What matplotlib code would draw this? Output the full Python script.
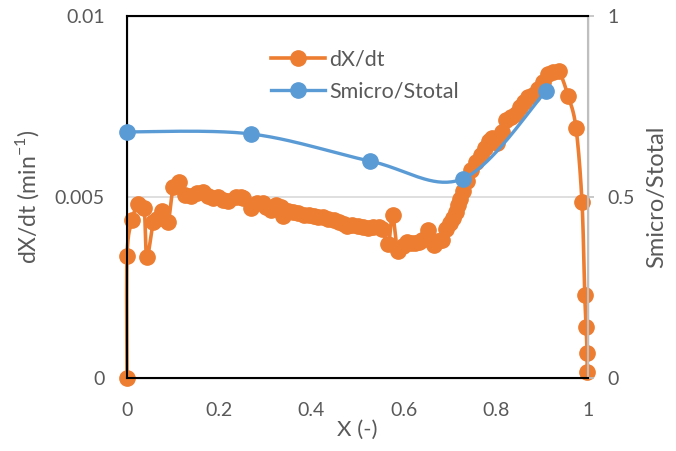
import matplotlib
matplotlib.use("Agg")
import matplotlib.pyplot as plt
import numpy as np

plt.rcParams['font.family'] = ['Lato', 'DejaVu Sans']

# conversion rate X and rate dX/dt (min^-1)
x_rate = [0.000, 0.000, 0.011, 0.024, 0.037, 0.043, 0.057, 0.065, 0.076, 0.089,
          0.100, 0.113, 0.126, 0.139, 0.152, 0.165, 0.176, 0.187, 0.198, 0.209,
          0.220, 0.237, 0.248, 0.252, 0.270, 0.283, 0.294, 0.302, 0.313, 0.324,
          0.333, 0.339, 0.350, 0.361, 0.372, 0.383, 0.394, 0.405, 0.415, 0.426,
          0.437, 0.448, 0.459, 0.470, 0.478, 0.489, 0.500, 0.511, 0.522, 0.533,
          0.546, 0.554, 0.567, 0.576, 0.587, 0.598, 0.607, 0.615, 0.624, 0.633,
          0.641, 0.648, 0.654, 0.665, 0.674, 0.683, 0.691, 0.700, 0.707, 0.713,
          0.718, 0.722, 0.728, 0.737, 0.746, 0.757, 0.767, 0.776, 0.785,
          0.791, 0.802, 0.813, 0.822, 0.833, 0.843, 0.852, 0.861, 0.870, 0.880,
          0.891, 0.902, 0.913, 0.924, 0.937, 0.957, 0.974, 0.987, 0.993, 0.996,
          0.998, 0.998]
dxdt = [0.00000, 0.00337, 0.00436, 0.00481, 0.00470, 0.00334, 0.00431, 0.00439, 0.00461, 0.00431,
        0.00527, 0.00541, 0.00505, 0.00503, 0.00511, 0.00514, 0.00503, 0.00497, 0.00500, 0.00492,
        0.00489, 0.00500, 0.00500, 0.00497, 0.00470, 0.00484, 0.00484, 0.00472, 0.00464, 0.00478,
        0.00472, 0.00448, 0.00461, 0.00459, 0.00456, 0.00450, 0.00450, 0.00448, 0.00445, 0.00445,
        0.00439, 0.00436, 0.00431, 0.00425, 0.00420, 0.00423, 0.00420, 0.00417, 0.00414, 0.00417,
        0.00417, 0.00411, 0.00370, 0.00450, 0.00351, 0.00365, 0.00376, 0.00373, 0.00373, 0.00376,
        0.00381, 0.00387, 0.00409, 0.00367, 0.00378, 0.00381, 0.00411, 0.00428, 0.00442, 0.00459,
        0.00478, 0.00494, 0.00517, 0.00545, 0.00575, 0.00597, 0.00616, 0.00635, 0.00655,
        0.00663, 0.00649, 0.00680, 0.00713, 0.00721, 0.00729, 0.00749, 0.00762, 0.00776, 0.00782,
        0.00798, 0.00818, 0.00840, 0.00845, 0.00848, 0.00779, 0.00691, 0.00486, 0.00229, 0.00141,
        0.00069, 0.00017]

# micropore surface fraction
x_s = [0.0, 0.270, 0.528, 0.728, 0.909]
s_ratio = [0.680, 0.674, 0.599, 0.550, 0.793]


def smooth(x, y, n=16):
    # bezier smoothing through every point (spreadsheet style smoothed line)
    p = np.column_stack([x, y]).astype(float)
    out = [p[0]]
    t = np.linspace(0, 1, n)[1:, None]
    for i in range(len(p) - 1):
        p0 = p[i - 1] if i > 0 else p[i]
        p1, p2 = p[i], p[i + 1]
        p3 = p[i + 2] if i + 2 < len(p) else p[i + 1]
        c1 = p1 + (p2 - p0) / 6
        c2 = p2 - (p3 - p1) / 6
        seg = ((1 - t) ** 3) * p1 + 3 * ((1 - t) ** 2) * t * c1 + 3 * (1 - t) * t ** 2 * c2 + t ** 3 * p2
        out.extend(seg)
    out = np.array(out)
    return out[:, 0], out[:, 1]


orange = '#ED7D31'
blue = '#5B9BD5'
grey = '#595959'

fig = plt.figure(figsize=(6.76, 4.51), dpi=100)
ax = fig.add_axes([0.1879, 0.1619, 0.6819, 0.8026])
ax2 = ax.twinx()

sx, sy = smooth(x_rate, dxdt)
ax.plot(sx, sy, color=orange, lw=2.6, zorder=3, solid_capstyle='round', clip_on=False)
ax.plot(x_rate, dxdt, 'o', color=orange, ms=11, zorder=3, clip_on=False)

bx, by = smooth(x_s, s_ratio, n=40)
ax2.plot(bx, by, color=blue, lw=2.4, zorder=3, clip_on=False)
ax2.plot(x_s, s_ratio, 'o', color=blue, ms=11, zorder=3, clip_on=False)

ax.set_xlim(0, 1)
ax.set_ylim(0, 0.01)
ax2.set_ylim(0, 1)
ax.set_xticks([0, 0.2, 0.4, 0.6, 0.8, 1])
ax.set_xticklabels(['0', '0.2', '0.4', '0.6', '0.8', '1'])
ax.set_yticks([0, 0.005, 0.01])
ax.set_yticklabels(['0', '0.005', '0.01'])
ax2.set_yticks([0, 0.5, 1])
ax2.set_yticklabels(['0', '0.5', '1'])

ax.yaxis.grid(True, color='#d9d9d9', lw=1.2)
ax.set_axisbelow(True)

for s in ['left', 'bottom', 'top']:
    ax2.spines[s].set_color('black')
    ax2.spines[s].set_linewidth(1.5)
ax2.spines['right'].set_color('#bfbfbf')
ax2.spines['right'].set_linewidth(1.5)

ax.tick_params(axis='both', length=0, labelsize=14, labelcolor=grey)
ax.tick_params(axis='x', pad=17)
ax.tick_params(axis='y', pad=16)
ax2.tick_params(axis='y', length=4, width=1.2, color='#bfbfbf', labelsize=14,
                labelcolor=grey, pad=10)

ax.set_xlabel('X (-)', fontsize=16, color=grey, labelpad=1)
ax.set_ylabel('dX/dt (min$^{\\mathregular{-1}}$)', fontsize=16.5, color=grey, labelpad=10)
ax2.set_ylabel('Smicro/Stotal', fontsize=17, color=grey, labelpad=8)

h1 = plt.Line2D([], [], color=orange, lw=2.6, marker='o', ms=11)
h2 = plt.Line2D([], [], color=blue, lw=2.4, marker='o', ms=11)
leg = ax2.legend([h1, h2], ['dX/dt', 'Smicro/Stotal'], loc='upper left',
                 bbox_to_anchor=(0.27, 0.96), frameon=False, fontsize=15.5,
                 handlelength=2.5, handletextpad=0.2, labelspacing=0.55)
for t in leg.get_texts():
    t.set_color(grey)

fig.savefig('out.png', dpi=100)
